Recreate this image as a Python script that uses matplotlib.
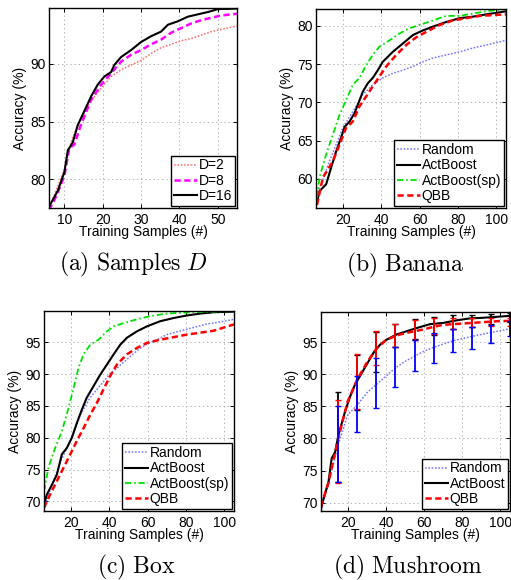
import matplotlib
matplotlib.use('Agg')
import matplotlib.pyplot as plt

plt.rcParams['font.family'] = ['Liberation Sans', 'DejaVu Sans']
plt.rcParams['mathtext.fontset'] = 'cm'
plt.rcParams['lines.scale_dashes'] = False

# ---------------- data ----------------
# (a) Samples D
a_x2 = [6, 10, 12, 14, 17, 19.6, 22.2, 24.8, 27.4, 30, 32.6, 35.2, 37.8, 40.4, 43, 45.7, 48.3, 50.9, 55]
a_y2 = [77.5, 80.8, 83.5, 85.0, 86.8, 87.9, 88.9, 89.5, 89.9, 90.3, 90.9, 91.4, 91.7, 92.0, 92.2, 92.5, 92.8, 93.0, 93.3]
a_x8 = [6, 8, 10, 11.3, 12.6, 14.3, 17, 19.6, 22.2, 24.8, 27.4, 30, 32.6, 35.2, 37.8, 40.4, 43, 45.7, 48.3, 50.9, 55]
a_y8 = [77.3, 78.6, 80.3, 82.7, 83.0, 84.7, 86.9, 88.2, 89.2, 90.2, 90.8, 91.2, 91.7, 92.1, 92.7, 93.1, 93.5, 93.8, 94.0, 94.2, 94.35]
a_x16 = [6, 8.3, 10, 10.9, 12.2, 13.5, 15.2, 17, 18.7, 20.4, 22.2, 23, 24.8, 27.4, 30, 32.6, 35.2, 37, 39.6, 42.2, 44.8, 47.4, 50, 55]
a_y16 = [77.6, 79.0, 80.6, 82.5, 83.2, 84.7, 85.9, 87.2, 88.2, 88.9, 89.3, 89.9, 90.6, 91.2, 91.9, 92.4, 92.8, 93.4, 93.7, 94.1, 94.3, 94.5, 94.75, 94.8]
a_labels = ['D=2', 'D=8', 'D=16']

# (b) Banana
b_x_rand = [6.5, 8.7, 13, 16.5, 20, 25.2, 30.4, 35.6, 40.8, 46, 51.3, 56.5, 61.7, 66.9, 73.8, 80.8, 87.7, 94.7, 105]
b_y_rand = [58.3, 59.3, 62.3, 64.5, 66.7, 68.8, 71.0, 72.3, 73.2, 73.8, 74.2, 74.7, 75.3, 75.8, 76.2, 76.6, 77.1, 77.5, 78.1]
b_x_act = [6.5, 7.8, 11.3, 13.9, 16.5, 19.1, 20.9, 23.5, 26.1, 27.8, 30.4, 33, 35.6, 38.2, 40.8, 46, 51.3, 56.5, 61.7, 66.9, 73.8, 80.8, 87.7, 94.7, 105]
b_y_act = [56.9, 58.4, 59.3, 61.5, 63.6, 65.4, 66.8, 67.5, 68.6, 69.7, 71.4, 72.5, 73.2, 74.2, 75.3, 76.6, 77.7, 78.8, 79.4, 79.9, 80.5, 81.0, 81.2, 81.5, 81.9]
b_x_sp = [6.5, 7.8, 11.3, 14.8, 18.3, 21.7, 25.2, 28.7, 32.2, 35.6, 39.1, 44.3, 49.5, 54.7, 59.9, 66.9, 73.8, 80.8, 87.7, 94.7, 105]
b_y_sp = [57.5, 60.2, 63.2, 65.8, 68.4, 70.3, 72.3, 73.2, 74.9, 76.2, 77.3, 78.1, 79.0, 79.7, 80.1, 80.7, 81.3, 81.3, 81.6, 81.9, 82.2]
b_x_qbb = [6.5, 9.6, 14.8, 18.3, 21.7, 25.2, 28.7, 32.2, 35.6, 39.1, 42.6, 47.8, 53, 58.2, 63.4, 70.3, 77.3, 84.2, 91.2, 105]
b_y_qbb = [56.6, 60.2, 62.3, 64.5, 66.7, 67.5, 69.5, 70.8, 72.1, 73.4, 74.7, 76.2, 77.5, 78.5, 79.2, 80.1, 80.7, 81.0, 81.3, 81.5]

# (c) Box
c_x_rand = [6, 10, 15, 20.5, 25, 30, 35, 40, 45, 50, 55, 60, 65, 70, 75, 80, 90, 100, 105]
c_y_rand = [69.0, 72.5, 76.5, 80.0, 83.6, 86.3, 88.1, 89.9, 91.2, 92.5, 93.8, 94.8, 95.4, 96.2, 96.6, 97.0, 97.8, 98.3, 98.6]
c_x_act = [6, 7.5, 10.1, 12.7, 15.3, 17.9, 20.5, 23.1, 25.7, 28.3, 31.8, 35.3, 38.8, 42.3, 45.7, 49.2, 54.4, 59.7, 66.6, 73.6, 80.5, 87.5, 94.4, 105]
c_y_act = [69.5, 71.1, 72.6, 74.2, 77.4, 78.4, 80.0, 82.3, 84.4, 86.3, 88.1, 89.9, 91.5, 93.1, 94.6, 95.7, 96.7, 97.5, 98.3, 98.8, 99.2, 99.5, 99.7, 99.8]
c_x_sp = [6, 8.3, 11.8, 15.3, 18.8, 21.4, 24, 26.6, 30.1, 34.4, 38.8, 42.3, 47.5, 54.4, 61.4, 70.1, 82.3, 105]
c_y_sp = [71.6, 75.3, 78.4, 81.0, 84.7, 87.8, 91.0, 93.1, 94.6, 95.4, 96.7, 97.5, 98.0, 98.6, 99.1, 99.5, 99.7, 99.9]
c_x_qbb = [6, 9.2, 12.7, 16.2, 19.7, 23.1, 26.6, 30.1, 33.6, 37, 40.5, 44, 49.2, 54.4, 59.7, 66.6, 73.6, 80.5, 87.5, 94.4, 105]
c_y_qbb = [69.0, 71.1, 73.2, 75.3, 77.4, 79.5, 81.5, 83.6, 85.5, 87.6, 89.7, 91.5, 93.1, 94.1, 94.9, 95.4, 95.8, 96.2, 96.5, 96.8, 97.8]

# (d) Mushroom
d_x_rand = [6, 10, 15, 20, 25, 30, 35, 40, 45, 50, 55, 60, 65, 70, 75, 85, 95, 105]
d_y_rand = [69.0, 73.0, 79.0, 83.7, 85.2, 87.1, 88.4, 89.7, 91.0, 92.0, 92.8, 93.6, 94.2, 94.7, 95.2, 95.9, 96.5, 97.1]
d_x_act = [6, 7.3, 9.9, 11.6, 13.4, 15.1, 16.9, 18.6, 21.2, 23.8, 26.4, 29.9, 33.4, 36.9, 40.4, 45.6, 50.8, 56.1, 63, 70, 77, 83.9, 90.9, 105]
d_y_act = [69.0, 70.6, 73.2, 76.9, 77.9, 80.5, 82.4, 84.2, 86.5, 88.4, 89.7, 91.5, 93.3, 94.6, 95.4, 96.2, 96.7, 97.2, 97.8, 98.0, 98.4, 98.7, 98.8, 99.1]
d_x_qbb = [6, 10, 15, 20, 25, 30, 35, 40, 45, 50, 55, 60, 65, 70, 80, 90, 100, 105]
d_y_qbb = [69.4, 73.2, 80.0, 85.8, 89.2, 91.8, 94.0, 95.3, 96.0, 96.4, 96.7, 97.0, 97.4, 97.7, 97.9, 98.1, 98.3, 98.3]
d_err_x = [15, 25, 35, 45, 55, 65, 75, 85, 95, 105]
d_rand_lo = [73.2, 81.0, 84.8, 88.0, 90.5, 91.8, 93.4, 94.0, 94.9, 95.9]
d_rand_hi = [85.0, 89.8, 92.5, 94.3, 95.3, 96.5, 97.1, 97.4, 97.6, 98.3]
d_act_lo = [73.2, 84.5, 90.3, 94.3, 95.5, 96.1, 97.1, 97.4, 97.9, 98.2]
d_act_hi = [87.2, 93.0, 96.6, 97.8, 98.6, 98.9, 99.2, 99.3, 99.4, 99.6]
d_qbb_lo = [73.0, 84.6, 91.4, 94.3, 95.3, 96.3, 97.0, 97.3, 97.5, 97.5]
d_qbb_hi = [86.0, 93.1, 96.7, 97.8, 98.5, 98.7, 98.8, 98.8, 98.8, 98.8]

method_labels = ['Random', 'ActBoost', 'ActBoost(sp)', 'QBB']
captions = [r'$\mathrm{(a)\ Samples}\ D$', r'$\mathrm{(b)\ Banana}$',
            r'$\mathrm{(c)\ Box}$', r'$\mathrm{(d)\ Mushroom}$']

# ---------------- styles ----------------
DOT = (0, (1.2, 1.2))
DASH = (0, (4.5, 2.5))
DASHDOT = (0, (4.5, 2, 1.2, 2))
C_RAND = '#7777ff'
C_ACT = 'black'
C_SP = '#00e000'
C_QBB = '#ff0000'

W, H = 511, 580
fig = plt.figure(figsize=(W / 100, H / 100), dpi=100)


def add_axes(l, r, t, b):
    return fig.add_axes([l / W, 1 - b / H, (r - l) / W, (b - t) / H])


def style(ax, xlim, ylim, xticks, yticks):
    ax.set_xlim(xlim)
    ax.set_ylim(ylim)
    ax.set_xticks(xticks)
    ax.set_yticks(yticks)
    ax.grid(True, color='#a8a8a8', linestyle=(0, (1, 2)), linewidth=0.6)
    ax.tick_params(direction='in', length=3, width=0.7, top=True, right=True,
                   labelsize=10, pad=2)
    ax.tick_params(axis='x', pad=3.5)
    for s in ax.spines.values():
        s.set_linewidth(1.0)
    ax.set_xlabel('Training Samples (#)', fontsize=10, labelpad=-1)
    ax.set_ylabel('Accuracy (%)', fontsize=10, labelpad=3)


def legend(ax):
    leg = ax.legend(loc='lower right', fontsize=10, frameon=True, fancybox=False,
                    edgecolor='black', framealpha=1, borderpad=0.2,
                    labelspacing=0.1, handlelength=1.7, handletextpad=0.1,
                    borderaxespad=0.15)
    leg.get_frame().set_linewidth(1.0)


# (a)
ax = add_axes(49, 237, 8, 208)
ax.plot(a_x2, a_y2, color='#ff7070', lw=1.1, linestyle=DOT, label=a_labels[0])
ax.plot(a_x8, a_y8, color='#ff00ff', lw=1.8, linestyle=DASH, label=a_labels[1])
ax.plot(a_x16, a_y16, color=C_ACT, lw=1.5, label=a_labels[2])
style(ax, (6, 55), (77.5, 94.85), [10, 20, 30, 40, 50], [80, 85, 90])
legend(ax)

# (b)
ax = add_axes(316, 506, 9, 208)
ax.plot(b_x_rand, b_y_rand, color=C_RAND, lw=1.1, linestyle=DOT, label=method_labels[0])
ax.plot(b_x_act, b_y_act, color=C_ACT, lw=1.5, label=method_labels[1])
ax.plot(b_x_sp, b_y_sp, color=C_SP, lw=1.3, linestyle=DASHDOT, label=method_labels[2])
ax.plot(b_x_qbb, b_y_qbb, color=C_QBB, lw=1.8, linestyle=DASH, label=method_labels[3])
style(ax, (6, 105), (56.2, 82.2), [20, 40, 60, 80, 100], [60, 65, 70, 75, 80])
legend(ax)

# (c)
ax = add_axes(44, 234, 311, 511)
ax.plot(c_x_rand, c_y_rand, color=C_RAND, lw=1.1, linestyle=DOT, label=method_labels[0])
ax.plot(c_x_act, c_y_act, color=C_ACT, lw=1.5, label=method_labels[1])
ax.plot(c_x_sp, c_y_sp, color=C_SP, lw=1.3, linestyle=DASHDOT, label=method_labels[2])
ax.plot(c_x_qbb, c_y_qbb, color=C_QBB, lw=1.8, linestyle=DASH, label=method_labels[3])
style(ax, (6, 105), (68.5, 99.9), [20, 40, 60, 80, 100], [70, 75, 80, 85, 90, 95])
legend(ax)

# (d)
ax = add_axes(321, 510, 312, 511)
ax.plot(d_x_rand, d_y_rand, color=C_RAND, lw=1.1, linestyle=DOT, label=method_labels[0])
ax.plot(d_x_act, d_y_act, color=C_ACT, lw=1.5, label=method_labels[1])
ax.plot(d_x_qbb, d_y_qbb, color=C_QBB, lw=1.8, linestyle=DASH, label=method_labels[3])
for lo, hi, col in [(d_act_lo, d_act_hi, 'black'), (d_qbb_lo, d_qbb_hi, '#ff0000'),
                    (d_rand_lo, d_rand_hi, '#0000ff')]:
    mid = [(a + b) / 2 for a, b in zip(lo, hi)]
    half = [(b - a) / 2 for a, b in zip(lo, hi)]
    ax.errorbar(d_err_x, mid, yerr=half, fmt='none', ecolor=col, elinewidth=1.3,
                capsize=2.2, capthick=1.0, clip_on=True)
style(ax, (6, 105), (68.7, 99.7), [20, 40, 60, 80, 100], [70, 75, 80, 85, 90, 95])
legend(ax)

# captions (baseline positioned)
for (cx, cy), txt in zip([(133, 270), (405, 271), (136, 573), (408, 573)], captions):
    fig.text(cx / W, 1 - cy / H, txt, ha='center', va='baseline', fontsize=17)

fig.savefig('out.png', dpi=100)
